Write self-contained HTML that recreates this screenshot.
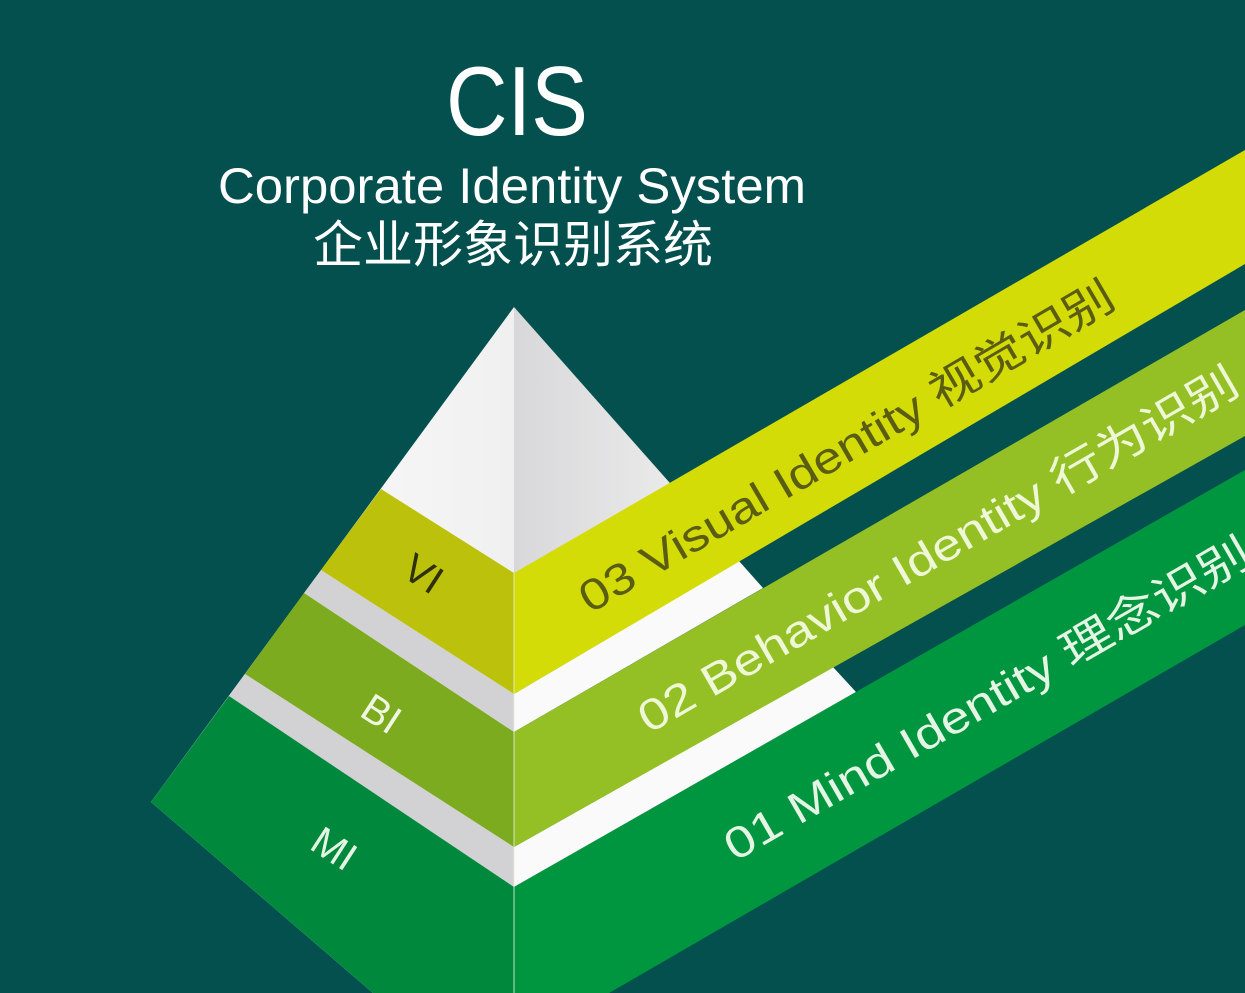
<!DOCTYPE html>
<html><head><meta charset="utf-8"><style>
html,body{margin:0;padding:0;background:#04504f;}
svg{display:block}
</style></head><body>
<svg width="1245" height="993" viewBox="0 0 1245 993" xmlns="http://www.w3.org/2000/svg">
<defs>
<linearGradient id="rf" x1="0" y1="0" x2="1" y2="0">
<stop offset="0" stop-color="#d8d8da"/><stop offset="1" stop-color="#f2f2f2"/>
</linearGradient>
<linearGradient id="lf" x1="0" y1="0" x2="1" y2="0">
<stop offset="0" stop-color="#ffffff"/><stop offset="1" stop-color="#f0f0f0"/>
</linearGradient>
</defs>
<rect width="1245" height="993" fill="#04504f"/>
<!-- pyramid faces -->
<polygon points="514,307 151,802 373,993 514,993" fill="url(#lf)"/>
<polygon points="514,307 739,561 514,694" fill="url(#rf)"/>
<!-- left face gray strips -->
<polygon points="321,570 514,694 514,732 304,593" fill="#d2d2d4"/>
<polygon points="245,674 514,847 514,887 229,696" fill="#d2d2d4"/>
<!-- left face bands -->
<polygon points="381,489 514,573 514,694 321,570" fill="#bcc20b"/>
<polygon points="304,593 514,732 514,847 245,674" fill="#7cab1f"/>
<polygon points="229,696 514,887 514,993 373,993 151,802" fill="#00893c"/>
<!-- right face white gaps -->
<polygon points="514,694 739,561 763,588 514,732" fill="#fafafa"/>
<polygon points="514,847 833,667 856,692 514,887" fill="#fafafa"/>
<!-- right bands -->
<polygon points="514,573 1245,150 1245,264 514,694" fill="#d3dc07"/>
<polygon points="514,732 1245,310 1245,436 514,847" fill="#94c025"/>
<polygon points="514,887 1245,470 1245,625 609,993 514,993" fill="#00963f"/>
<line x1="514" y1="573" x2="514" y2="993" stroke="#e8f0d8" stroke-width="1.2" opacity="0.7"/>
<!-- titles -->
<g font-family="'Liberation Sans','Noto Sans CJK SC',sans-serif" fill="#ffffff">
<text x="517" y="135" font-size="98" text-anchor="middle" textLength="142" lengthAdjust="spacingAndGlyphs">CIS</text>
<text x="512" y="203" font-size="50" text-anchor="middle" textLength="588" lengthAdjust="spacingAndGlyphs">Corporate Identity System</text>
<text x="513" y="262" font-size="50" text-anchor="middle" textLength="400" lengthAdjust="spacingAndGlyphs">企业形象识别系统</text>
</g>
<!-- band texts -->
<g font-family="'Liberation Sans','Noto Sans CJK SC',sans-serif" font-size="44">
<text x="590" y="614" transform="rotate(-30.3 590 614)" fill="#5a5c12" textLength="612" lengthAdjust="spacingAndGlyphs">03 Visual Identity 视觉识别</text>
<text x="649" y="734" transform="rotate(-30 649 734)" fill="#eef7d6" textLength="685" lengthAdjust="spacingAndGlyphs">02 Behavior Identity 行为识别</text>
<text x="735" y="862" transform="rotate(-30 735 862)" fill="#e4f5e4" textLength="600" lengthAdjust="spacingAndGlyphs">01 Mind Identity 理念识别</text>
</g>
<g font-family="'Liberation Sans',sans-serif" font-size="40">
<text x="400" y="575" transform="rotate(33 400 575)" fill="#2e300a">VI</text>
<text x="358" y="715" transform="rotate(33 358 715)" fill="#f0f7e0">BI</text>
<text x="308" y="848" transform="rotate(33 308 848)" fill="#e4f5e4">MI</text>
</g>
</svg>
</body></html>
